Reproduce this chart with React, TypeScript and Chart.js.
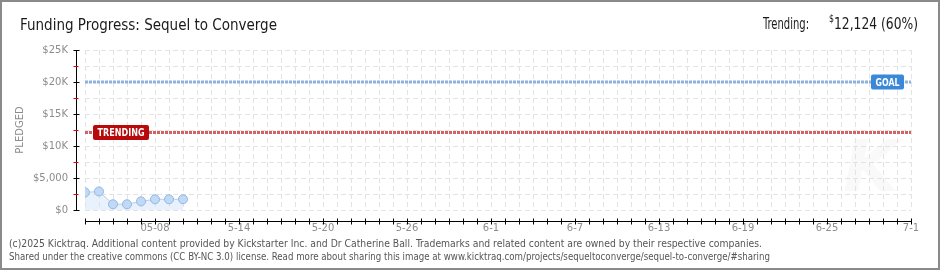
import React, { useEffect, useRef } from 'react';
import { Chart, registerables } from 'chart.js';

Chart.register(...registerables);

// ---------- data ----------
const dayIndex = [0, 1, 2, 3, 4, 5, 6, 7]; // days since 5-3
const pledged = [2750, 2900, 900, 900, 1350, 1670, 1670, 1680];
const goalValue = 20000;
const trendingValue = 12124;
const trendingText = '12,124 (60%)';
const xMax = 59;
const xLabelDays = [5, 11, 17, 23, 29, 35, 41, 47, 53, 59];
const xLabelTexts = ['05-08', '5-14', '5-20', '5-26', '6-1', '6-7', '6-13', '6-19', '6-25', '7-1'];
const yLabelValues = [0, 5000, 10000, 15000, 20000, 25000];
const yLabelTexts = ['$0', '$5,000', '$10K', '$15K', '$20K', '$25K'];
const titleText = 'Funding Progress: Sequel to Converge';
const footer1 =
  '(c)2025 Kicktraq. Additional content provided by Kickstarter Inc. and Dr Catherine Ball. Trademarks and related content are owned by their respective companies.';
const footer2 =
  'Shared under the creative commons (CC BY-NC 3.0) license. Read more about sharing this image at www.kicktraq.com/projects/sequeltoconverge/sequel-to-converge/#sharing';

const NARROW = '"DejaVu Sans Condensed", "Liberation Sans Narrow", "Roboto", sans-serif';
const TICKFONT = '"DejaVu Sans", sans-serif';

function fitText(ctx: CanvasRenderingContext2D, text: string, x: number, y: number, width: number, font: string, align: 'left' | 'right' | 'center' = 'left') {
  ctx.save();
  ctx.font = font;
  const w = ctx.measureText(text).width;
  const s = width / w;
  ctx.textBaseline = 'alphabetic';
  ctx.textAlign = 'left';
  const x0 = align === 'left' ? x : align === 'right' ? x - width : x - width / 2;
  ctx.translate(x0, y);
  ctx.scale(s, 1);
  ctx.fillText(text, 0, 0);
  ctx.restore();
}

function roundRect(ctx: CanvasRenderingContext2D, x: number, y: number, w: number, h: number, r: number) {
  ctx.beginPath();
  ctx.moveTo(x + r, y);
  ctx.lineTo(x + w - r, y);
  ctx.quadraticCurveTo(x + w, y, x + w, y + r);
  ctx.lineTo(x + w, y + h - r);
  ctx.quadraticCurveTo(x + w, y + h, x + w - r, y + h);
  ctx.lineTo(x + r, y + h);
  ctx.quadraticCurveTo(x, y + h, x, y + h - r);
  ctx.lineTo(x, y + r);
  ctx.quadraticCurveTo(x, y, x + r, y);
  ctx.closePath();
}

const decorPlugin = {
  id: 'decor',
  beforeDraw(chart: any) {
    const ctx = chart.ctx as CanvasRenderingContext2D;
    ctx.save();
    ctx.fillStyle = '#ffffff';
    ctx.fillRect(0, 0, chart.width, chart.height);
    // faint watermark
    ctx.fillStyle = 'rgba(0,0,0,0.025)';
    ctx.font = 'italic bold 72px "DejaVu Sans", sans-serif';
    ctx.textAlign = 'center';
    ctx.textBaseline = 'middle';
    ctx.fillText('K', chart.chartArea.right - 40, chart.chartArea.bottom - 38);
    ctx.restore();
  },
  afterDatasetsDraw(chart: any) {
    const ctx = chart.ctx as CanvasRenderingContext2D;
    const { left, right } = chart.chartArea;
    const ys = chart.scales.y;
    ctx.save();
    // trending label
    const ty = ys.getPixelForValue(trendingValue);
    ctx.fillStyle = '#b80a0a';
    roundRect(ctx, left + 8, ty - 7.5, 56, 15, 2);
    ctx.fill();
    ctx.fillStyle = '#ffffff';
    fitText(ctx, 'TRENDING', left + 36, ty + 4, 47, 'bold 10px "DejaVu Sans", sans-serif', 'center');
    // goal label
    const gy = ys.getPixelForValue(goalValue);
    ctx.fillStyle = '#3b88d8';
    roundRect(ctx, right - 40, gy - 7.5, 33, 15, 2);
    ctx.fill();
    ctx.fillStyle = '#ffffff';
    fitText(ctx, 'GOAL', right - 23.5, gy + 4, 24, 'bold 10px "DejaVu Sans", sans-serif', 'center');
    ctx.restore();
  },
  afterDraw(chart: any) {
    const ctx = chart.ctx as CanvasRenderingContext2D;
    const { left, right, top, bottom } = chart.chartArea;
    const xs = chart.scales.x;
    const ys = chart.scales.y;
    ctx.save();
    // y axis line + ticks
    const ax = Math.round(left - 9) + 0.5;
    ctx.lineWidth = 1;
    ctx.strokeStyle = '#000';
    ctx.beginPath();
    ctx.moveTo(ax, top);
    ctx.lineTo(ax, bottom + 1);
    ctx.stroke();
    ys.ticks.forEach((t: any) => {
      const py = Math.round(ys.getPixelForValue(t.value)) + 0.5;
      const major = t.value % 5000 === 0;
      ctx.strokeStyle = major ? '#000' : '#e00000';
      ctx.beginPath();
      ctx.moveTo(ax - 3, py);
      ctx.lineTo(ax + (major ? 3 : 2), py);
      ctx.stroke();
    });
    // x axis line + ticks
    const ay = Math.round(bottom + 11) + 0.5;
    ctx.strokeStyle = '#000';
    ctx.beginPath();
    ctx.moveTo(left, ay);
    ctx.lineTo(right, ay);
    ctx.stroke();
    xs.ticks.forEach((t: any) => {
      const px = Math.round(xs.getPixelForValue(t.value)) + 0.5;
      ctx.beginPath();
      ctx.moveTo(px, ay - 3);
      ctx.lineTo(px, ay + 3);
      ctx.stroke();
    });
    // title
    ctx.fillStyle = '#1a1a1a';
    fitText(ctx, titleText, 20, 30, 257, '16px ' + NARROW);
    // trending text
    const rightEdge = 918;
    const mainW = 84;
    fitText(ctx, trendingText, rightEdge, 29, mainW, '16px ' + NARROW, 'right');
    fitText(ctx, '$', rightEdge - mainW - 5, 22, 5, '10px ' + NARROW);
    fitText(ctx, 'Trending:', 763, 29, 46, '16px ' + NARROW);
    // footer
    ctx.fillStyle = '#555555';
    fitText(ctx, footer1, 9, 247, 753, '10px ' + NARROW);
    fitText(ctx, footer2, 9, 260, 761, '10px ' + NARROW);
    // border
    ctx.strokeStyle = '#8a8a8a';
    ctx.lineWidth = 2;
    ctx.strokeRect(1, 1, chart.width - 2, chart.height - 2);
    ctx.restore();
  },
};

export default function App() {
  const ref = useRef<HTMLCanvasElement>(null);
  useEffect(() => {
    if (!ref.current) return;
    const chart = new Chart(ref.current, {
      type: 'line',
      data: {
        datasets: [
          {
            label: 'Pledged',
            data: dayIndex.map((d, i) => ({ x: d, y: pledged[i] })),
            borderColor: '#b4d0f0',
            borderWidth: 1,
            pointRadius: 4.5,
            pointBackgroundColor: '#c0daf6',
            pointBorderColor: '#94b8e4',
            pointBorderWidth: 1,
            fill: 'origin',
            backgroundColor: 'rgba(205,225,248,0.45)',
            tension: 0,
          },
          {
            label: 'Goal',
            data: [
              { x: 0, y: goalValue },
              { x: xMax, y: goalValue },
            ],
            borderColor: '#8fb2dd',
            borderWidth: 3,
            borderDash: [3, 1],
            pointRadius: 0,
            fill: false,
          },
          {
            label: 'Trending',
            data: [
              { x: 0, y: trendingValue },
              { x: xMax, y: trendingValue },
            ],
            borderColor: '#d06464',
            borderWidth: 3,
            borderDash: [3, 1],
            pointRadius: 0,
            fill: false,
          },
        ],
      },
      options: {
        responsive: false,
        animation: false,
        events: [],
        layout: { padding: { left: 0, right: 29, top: 50, bottom: 0 } },
        plugins: { legend: { display: false }, tooltip: { enabled: false }, title: { display: false } },
        scales: {
          x: {
            type: 'linear',
            min: 0,
            max: xMax,
            afterFit: (s: any) => {
              s.height = 60;
            },
            border: { display: false, dash: [5, 3] },
            grid: { color: '#e3e3e3', drawTicks: false, lineWidth: 1 },
            ticks: {
              stepSize: 1,
              maxTicksLimit: 200,
              autoSkip: false,
              maxRotation: 0,
              padding: 12,
              color: '#8c8c8c',
              font: { family: TICKFONT, size: 10 },
              callback: (v: any) => {
                const k = xLabelDays.indexOf(Number(v));
                return k >= 0 ? xLabelTexts[k] : '';
              },
            },
          },
          y: {
            type: 'linear',
            min: 0,
            max: 25000,
            afterFit: (s: any) => {
              s.width = 85;
            },
            border: { display: false, dash: [5, 3] },
            grid: { color: '#e3e3e3', drawTicks: false, lineWidth: 1 },
            title: {
              display: true,
              text: 'PLEDGED',
              color: '#8c8c8c',
              font: { family: TICKFONT, size: 10 },
              padding: { top: 14, bottom: 0 },
            },
            ticks: {
              stepSize: 2500,
              maxTicksLimit: 50,
              autoSkip: false,
              padding: 17,
              color: '#8c8c8c',
              font: { family: TICKFONT, size: 10 },
              callback: (v: any) => {
                const k = yLabelValues.indexOf(Number(v));
                return k >= 0 ? yLabelTexts[k] : '';
              },
            },
          },
        },
      },
      plugins: [decorPlugin],
    });
    return () => chart.destroy();
  }, []);
  return (
    <div style={{ position: 'fixed', left: 0, top: 0, width: 940, height: 270 }}>
      <canvas ref={ref} width={940} height={270} />
    </div>
  );
}
